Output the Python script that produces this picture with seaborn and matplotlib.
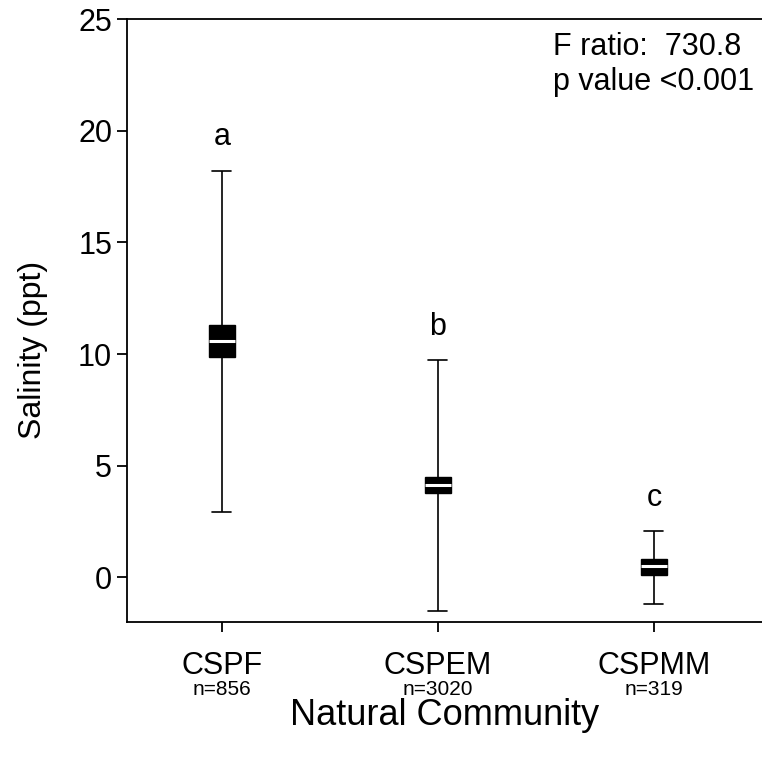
#!/usr/bin/env python

import numpy as np
import pandas as pd
import matplotlib
matplotlib.use('Agg')
import matplotlib.pyplot as plt
import seaborn as sns

# Summary values (salinity, ppt)
COMMUNITIES = ['CSPF', 'CSPEM', 'CSPMM']
N_OBS = [856, 3020, 319]
WHISK_LOW = [2.9, -1.52, -1.22]
Q1 = [9.87, 3.75, 0.09]
MEDIAN = [10.57, 4.12, 0.49]
Q3 = [11.28, 4.48, 0.82]
WHISK_HIGH = [18.22, 9.71, 2.06]
LETTERS = ['a', 'b', 'c']
F_RATIO = 730.8


def build_frame():
    # five values per group: with whis=(0, 100) seaborn reproduces the
    # whiskers, quartiles and median exactly
    rows = []
    for i, name in enumerate(COMMUNITIES):
        for v in (WHISK_LOW[i], Q1[i], MEDIAN[i], Q3[i], WHISK_HIGH[i]):
            rows.append({'community': name, 'salinity': v})
    return pd.DataFrame(rows)


def main():
    sns.set_style('ticks')
    plt.rcParams['font.family'] = ['Liberation Sans', 'DejaVu Sans']
    plt.rcParams['text.color'] = 'black'
    plt.rcParams['axes.labelcolor'] = 'black'

    df = build_frame()
    fig = plt.figure(figsize=(7.62, 7.62), dpi=100)
    ax = fig.add_axes([0.1663, 0.184, 0.8337, 0.7907])

    sns.boxplot(data=df, x='community', y='salinity', order=COMMUNITIES,
                whis=(0, 100), width=0.12, color='black', linecolor='black',
                showfliers=False, capwidths=0.088, ax=ax,
                boxprops=dict(facecolor='black', edgecolor='black',
                              linewidth=1.0),
                medianprops=dict(color='white', linewidth=2.2),
                whiskerprops=dict(color='black', linewidth=1.2),
                capprops=dict(color='black', linewidth=1.2))

    ax.set_xlim(-0.44, 2.5)
    ax.set_ylim(-2, 25)
    ax.set_yticks(np.arange(0, 26, 5))

    for side in ['left', 'bottom', 'top']:
        ax.spines[side].set_visible(True)
        ax.spines[side].set_linewidth(1.3)
        ax.spines[side].set_color('black')
    ax.spines['right'].set_visible(False)

    ax.tick_params(axis='both', direction='out', length=7, width=1.3,
                   labelsize=22, colors='black')
    ax.tick_params(axis='x', pad=14)
    ax.set_xticks(range(len(COMMUNITIES)))
    ax.set_xticklabels(COMMUNITIES)

    ax.set_ylabel('Salinity (ppt)', fontsize=23)
    ax.yaxis.set_label_coords(-0.124, 0.451)
    ax.set_xlabel('Natural Community', fontsize=26, va='center')
    ax.xaxis.set_label_coords(0.5, -0.155)

    # sample sizes under the category names
    for i, n in enumerate(N_OBS):
        ax.text(i, -0.113, 'n=%d' % n, transform=ax.get_xaxis_transform(),
                ha='center', va='center', fontsize=15)

    # significance letters above the whiskers
    for i, let in enumerate(LETTERS):
        ax.text(i, WHISK_HIGH[i] + 1.15, let, ha='center', va='baseline',
                fontsize=22)

    ax.text(0.671, 0.954, 'F ratio:  %.1f' % F_RATIO,
            transform=ax.transAxes, ha='left', va='center', fontsize=22)
    ax.text(0.671, 0.896, 'p value <0.001',
            transform=ax.transAxes, ha='left', va='center', fontsize=22)

    fig.savefig('out.png', dpi=100)


if __name__ == '__main__':
    main()
